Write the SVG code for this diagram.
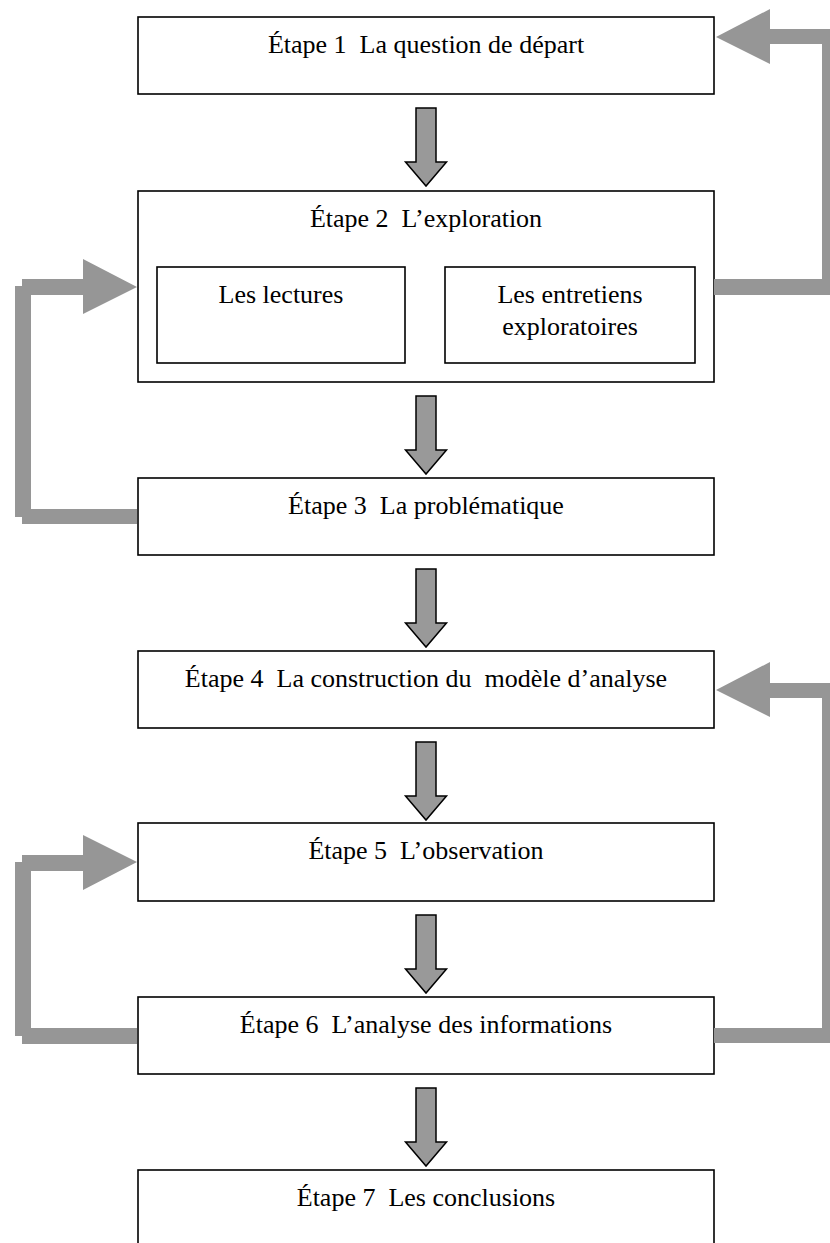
<svg xmlns="http://www.w3.org/2000/svg" width="830" height="1243" viewBox="0 0 830 1243" xml:space="preserve">
  <style>
    .box { fill: #ffffff; stroke: #000000; stroke-width: 1.6; }
    text { font-family: 'Liberation Serif', 'Tinos', 'Times New Roman', 'DejaVu Serif', serif; font-size: 26px; fill: #000000; text-anchor: middle; white-space: pre; }
    .down { fill: #999999; stroke: #000000; stroke-width: 1.5; stroke-linejoin: miter; }
    .loop { fill: #969696; stroke: none; }
  </style>
  <defs>
    <!-- block arrow pointing down, origin at top-centre of its shaft -->
    <path id="downArrow" class="down" d="M -10 0 L 10 0 L 10 54 L 20.5 54 L 0 78 L -20.5 54 L -10 54 Z"/>
  </defs>

  <rect x="0" y="0" width="830" height="1243" fill="#ffffff"/>

  <!-- step boxes -->
  <g id="step1">
    <rect class="box" x="138" y="17" width="576" height="77"/>
    <text font-family="Liberation Serif, serif" x="426" y="53">Étape 1  La question de départ</text>
  </g>

  <g id="step2">
    <rect class="box" x="138" y="191" width="576" height="191"/>
    <text font-family="Liberation Serif, serif" x="426" y="227">Étape 2  L’exploration</text>
  </g>
  <g id="readings">
    <rect class="box" x="157" y="267" width="248" height="96"/>
    <text font-family="Liberation Serif, serif" x="281" y="303">Les lectures</text>
  </g>
  <g id="interviews">
    <rect class="box" x="445" y="267" width="250" height="96"/>
    <text font-family="Liberation Serif, serif" x="570" y="303">Les entretiens</text>
    <text font-family="Liberation Serif, serif" x="570" y="335">exploratoires</text>
  </g>

  <g id="step3">
    <rect class="box" x="138" y="478" width="576" height="77"/>
    <text font-family="Liberation Serif, serif" x="426" y="514">Étape 3  La problématique</text>
  </g>

  <g id="step4">
    <rect class="box" x="138" y="651" width="576" height="77"/>
    <text font-family="Liberation Serif, serif" x="426" y="687">Étape 4  La construction du  modèle d’analyse</text>
  </g>

  <g id="step5">
    <rect class="box" x="138" y="823" width="576" height="78"/>
    <text font-family="Liberation Serif, serif" x="426" y="859">Étape 5  L’observation</text>
  </g>

  <g id="step6">
    <rect class="box" x="138" y="997" width="576" height="77"/>
    <text font-family="Liberation Serif, serif" x="426" y="1033">Étape 6  L’analyse des informations</text>
  </g>

  <g id="step7">
    <rect class="box" x="138" y="1170" width="576" height="90"/>
    <text font-family="Liberation Serif, serif" x="426" y="1206">Étape 7  Les conclusions</text>
  </g>

  <!-- connectors -->
  <g id="connectors">
    <!-- forward flow between steps -->
    <use href="#downArrow" x="426" y="108"/>
    <use href="#downArrow" x="426" y="396"/>
    <use href="#downArrow" x="426" y="569"/>
    <use href="#downArrow" x="426" y="742"/>
    <use href="#downArrow" x="426" y="915"/>
    <use href="#downArrow" x="426" y="1088"/>

    <!-- feedback: step 2 back to step 1 (right side) -->
    <path class="loop" d="M 714 279 L 822 279 L 822 44 L 770 44 L 770 64 L 716 37 L 770 9 L 770 29 L 838 29 L 838 295 L 714 295 Z"/>

    <!-- feedback: step 3 back to step 2 (left side) -->
    <path class="loop" d="M 137 509 L 31 509 L 31 295 L 83 295 L 83 314 L 137 287 L 83 259 L 83 279 L 22 279 L 22 286 L 15 286 L 15 517 L 22 517 L 22 524 L 137 524 Z"/>

    <!-- feedback: step 6 back to step 4 (right side) -->
    <path class="loop" d="M 714 1028 L 822 1028 L 822 698 L 770 698 L 770 717 L 716 690 L 770 662 L 770 683 L 838 683 L 838 1043 L 714 1043 Z"/>

    <!-- feedback: step 6 back to step 5 (left side) -->
    <path class="loop" d="M 137 1028 L 31 1028 L 31 871 L 83 871 L 83 890 L 137 862 L 83 835 L 83 855 L 22 855 L 22 862 L 15 862 L 15 1036 L 22 1036 L 22 1044 L 137 1044 Z"/>
  </g>
</svg>
